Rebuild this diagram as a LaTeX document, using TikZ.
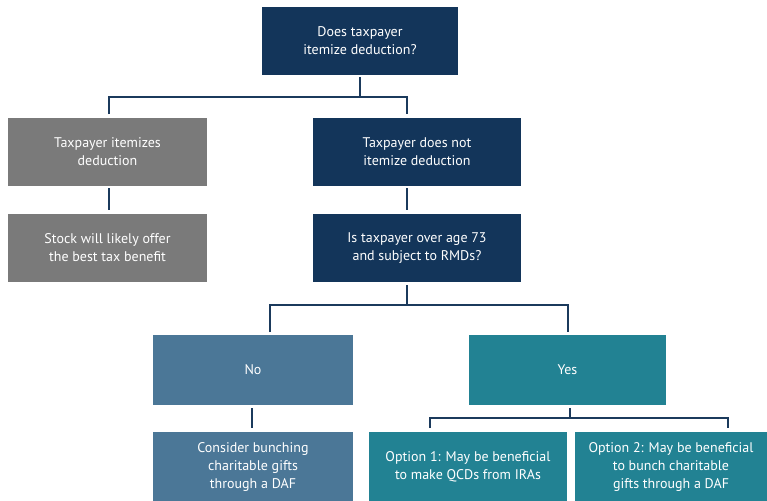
\documentclass[tikz,border=0pt]{standalone}
\usepackage{fontspec}
\setmainfont{PT Sans}
\definecolor{navy}{HTML}{13355A}
\definecolor{greybox}{HTML}{7A7A7A}
\definecolor{nobox}{HTML}{4B7797}
\definecolor{yesbox}{HTML}{228293}
\definecolor{linec}{HTML}{1B3A5C}
\begin{document}
\begin{tikzpicture}[x=1pt,y=-1pt,
  box/.style={rectangle, inner sep=0pt, align=center, text=white, font=\fontsize{14}{18}\selectfont},
  conn/.style={draw=linec, line width=2.3pt}]
\useasboundingbox (0,0) rectangle (767,500);
\clip (0,0) rectangle (767,500);
\node[box, fill=navy, minimum width=196pt, minimum height=68pt] (q1) at (360,41) {Does taxpayer\\itemize deduction?};
\node[box, fill=greybox, minimum width=199pt, minimum height=68pt] (it) at (107.5,152) {Taxpayer itemizes\\deduction};
\node[box, fill=navy, minimum width=208pt, minimum height=68pt] (nit) at (417,152) {Taxpayer does not\\itemize deduction};
\node[box, fill=greybox, minimum width=199pt, minimum height=68pt] (stock) at (107.5,248) {Stock will likely offer\\the best tax benefit};
\node[box, fill=navy, minimum width=208pt, minimum height=68pt] (q2) at (417,248) {Is taxpayer over age 73\\and subject to RMDs?};
\node[box, fill=nobox, minimum width=200pt, minimum height=70pt] (no) at (253,370) {No};
\node[box, fill=yesbox, minimum width=197pt, minimum height=70pt] (yes) at (567.5,370) {Yes};
\node[box, fill=nobox, minimum width=200pt, minimum height=70pt] (cons) at (253,467) {Consider bunching\\charitable gifts\\through a DAF};
\node[box, fill=yesbox, minimum width=198pt, minimum height=70pt] (opt1) at (468,467) {Option 1: May be beneficial\\to make QCDs from IRAs};
\node[box, fill=yesbox, minimum width=192pt, minimum height=70pt] (opt2) at (671,467) {Option 2: May be beneficial\\to bunch charitable\\gifts through a DAF};
% connectors
\coordinate (j1) at (360,97);
\draw[conn] ([yshift=-2pt]q1.south) -- (j1);
\draw[conn] (109,114) |- (j1) -| (407,114);
\draw[conn] (109,188) -- (109,210);
\draw[conn] (407,188) -- (407,210);
\coordinate (j2) at (407,305);
\draw[conn] (407,285) -- (j2);
\draw[conn] (270,332) |- (j2) -| (568,332);
\draw[conn] (252,408) -- (252,428);
\coordinate (j3) at (570,418);
\draw[conn] (570,408) -- (j3);
\draw[conn] (430,428) |- (j3) -| (728,428);
\end{tikzpicture}
\end{document}
